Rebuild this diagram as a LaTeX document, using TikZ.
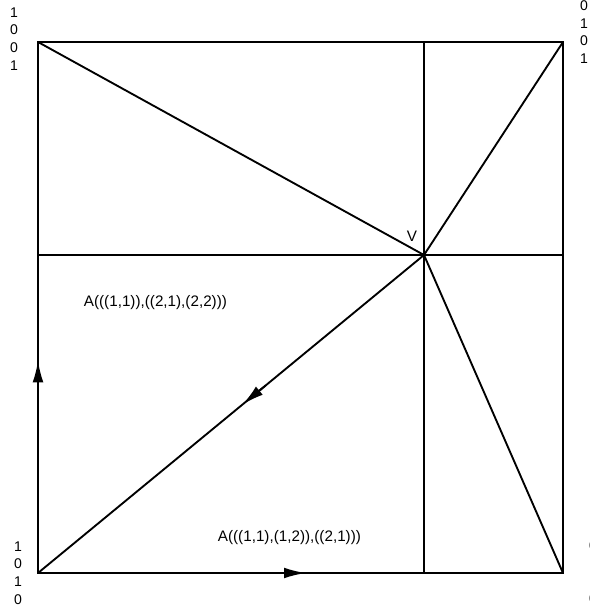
\documentclass[tikz,border=0pt]{standalone}
\usepackage{fontspec}
\setmainfont{Liberation Sans}
\usetikzlibrary{arrows.meta,calc}

\begin{document}
\begin{tikzpicture}[x=0.03cm,y=-0.03cm,line width=1.6pt,
  >={Latex[length=6.5mm,width=3.2mm]},
  font=\fontsize{13}{15}\selectfont,
  bits/.style={align=center,inner sep=0pt,font=\fontsize{12}{15.2}\selectfont}]
\useasboundingbox (0,0) rectangle (590,611);
\coordinate (tl) at (38,42);
\coordinate (tr) at (563,42);
\coordinate (bl) at (38,573);
\coordinate (br) at (563,573);
\coordinate (top) at (424,42);
\coordinate (bot) at (424,573);
\coordinate (lft) at (38,255);
\coordinate (rgt) at (563,255);
\coordinate (v) at (424,255);
\draw (tl) -- (tr) -- (br) -- (bl) -- cycle;
\draw (top) -- (bot);
\draw (lft) -- (rgt);
\draw (tl) -- (v) -- (tr);
\draw (v) -- (br);
\draw (v) -- (bl);
\draw[->] ($(bl)!0.45!(br)$) -- ($(bl)!0.51!(br)$);
\draw[->] ($(bl)!0.33!(tl)$) -- ($(bl)!0.40!(tl)$);
\draw[->] ($(v)!0.41!(bl)$) -- ($(v)!0.47!(bl)$);
\node (vlab) at (412,236) {V};
\node[anchor=west,inner sep=0pt] (a1) at (83,303) {A(((1,1)),((2,1),(2,2)))};
\node[anchor=west,inner sep=0pt] (a2) at (217,538) {A(((1,1),(1,2)),((2,1)))};
\node[bits] (ltop) at (14,39) {1\\0\\0\\1};
\node[bits] (rtop) at (584,32) {0\\1\\0\\1};
\node[bits] (lbot) at (18,573) {1\\0\\1\\0};
\node[bits] (rbot) at (593,572) {0\\1\\1\\0};
\end{tikzpicture}
\end{document}
